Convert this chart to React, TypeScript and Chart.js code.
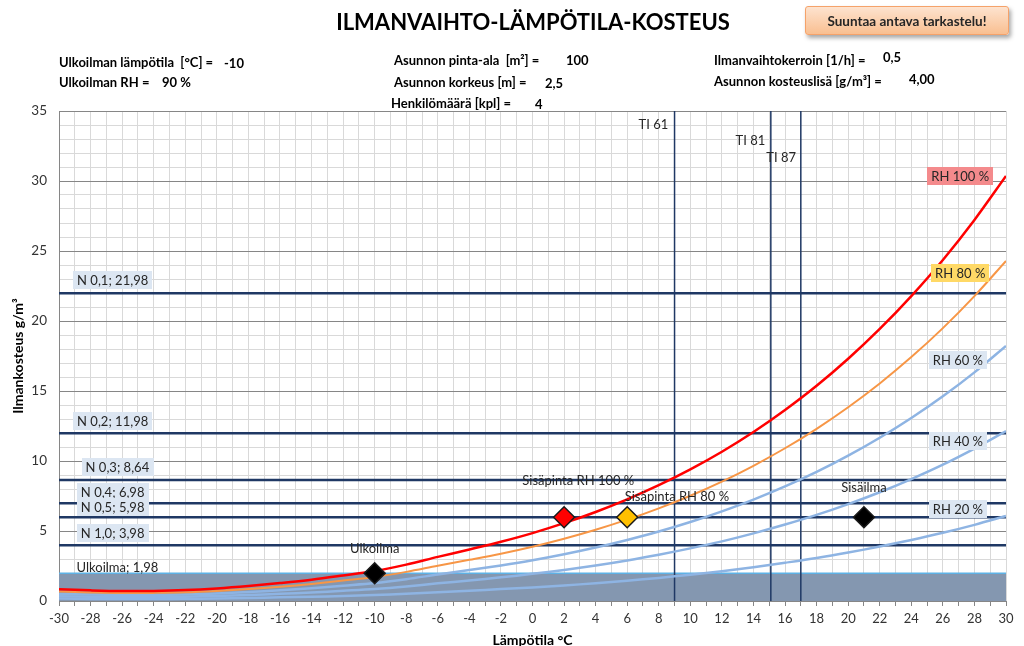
import React, { useEffect, useRef } from 'react';
import { Chart, registerables } from 'chart.js';

Chart.register(...registerables);

// ---- Data ----
const temps = [-30, -28, -26, -24, -22, -20, -18, -16, -14, -12, -10, -8, -6, -4, -2, 0, 2, 4, 6, 8, 10, 12, 14, 16, 18, 20, 22, 24, 26, 28, 30];
const rh100 = [0.84, 0.76, 0.71, 0.72, 0.78, 0.90, 1.07, 1.28, 1.52, 1.82, 2.14, 2.60, 3.15, 3.68, 4.23, 4.85, 5.56, 6.36, 7.26, 8.27, 9.40, 10.66, 12.07, 13.64, 15.37, 17.30, 19.43, 21.78, 24.36, 27.22, 30.36];
const rh80 = [0.67, 0.61, 0.57, 0.58, 0.62, 0.72, 0.86, 1.02, 1.22, 1.46, 1.71, 2.08, 2.52, 2.94, 3.38, 3.88, 4.45, 5.09, 5.81, 6.62, 7.52, 8.53, 9.66, 10.91, 12.30, 13.84, 15.54, 17.42, 19.49, 21.78, 24.29];
const rh60 = [0.50, 0.46, 0.43, 0.43, 0.47, 0.54, 0.64, 0.77, 0.91, 1.09, 1.28, 1.56, 1.89, 2.21, 2.54, 2.91, 3.34, 3.82, 4.36, 4.96, 5.64, 6.40, 7.24, 8.18, 9.22, 10.38, 11.66, 13.07, 14.62, 16.33, 18.22];
const rh40 = [0.34, 0.30, 0.28, 0.29, 0.31, 0.36, 0.43, 0.51, 0.61, 0.73, 0.86, 1.04, 1.26, 1.47, 1.69, 1.94, 2.22, 2.54, 2.90, 3.31, 3.76, 4.26, 4.83, 5.46, 6.15, 6.92, 7.77, 8.71, 9.74, 10.89, 12.14];
const rh20 = [0.17, 0.15, 0.14, 0.14, 0.16, 0.18, 0.21, 0.26, 0.30, 0.36, 0.43, 0.52, 0.63, 0.74, 0.85, 0.97, 1.11, 1.27, 1.45, 1.65, 1.88, 2.13, 2.41, 2.73, 3.07, 3.46, 3.89, 4.36, 4.87, 5.44, 6.07];

const nLevels = [21.98, 11.98, 8.64, 6.98, 5.98, 3.98];
const nLabels = ['N 0,1; 21,98', 'N 0,2; 11,98', 'N 0,3; 8,64', 'N 0,4; 6,98', 'N 0,5; 5,98', 'N 1,0; 3,98'];
const outdoorLevel = 1.98;
const outdoorLabel = 'Ulkoilma; 1,98';

const tiTemps = [9, 15.1, 17];
const tiLabels = ['TI 61', 'TI 81', 'TI 87'];

const markerTemps = [-10, 2, 6, 21];
const markerValues = [1.98, 5.98, 5.98, 5.98];
const markerLabels = ['Ulkoilma', 'Sisäpinta RH 100 %', 'Sisäpinta RH 80 %', 'Sisäilma'];

const rhLabels = ['RH 100 %', 'RH 80 %', 'RH 60 %', 'RH 40 %', 'RH 20 %'];

const xMin = -30, xMax = 30, yMin = 0, yMax = 35;

// ---- Label placement (data coordinates) ----
const nLabelPos = [[-26.6, 22.93], [-26.6, 12.86], [-26.3, 9.57], [-26.6, 7.79], [-26.6, 6.71], [-26.6, 4.86]];
const outdoorLabelPos = [-26.3, 2.43];
const tiLabelPos = [[8.6, 34.07], [14.75, 32.93], [16.7, 31.71]];
const markerLabelPos = [[-10, 3.79], [2.9, 8.64], [9.15, 7.5], [21, 8.14]];
const rhLabelPos = [[27.1, 30.36], [27.1, 23.43], [26.95, 17.21], [26.95, 11.43], [26.95, 6.57]];

const FONT = 'Lato, "Open Sans", sans-serif';

type Ann = { text: string; x: number; y: number; align: 'left' | 'center' | 'right'; bg?: string; color?: string };

const annotations: Ann[] = [
  ...nLabels.map((t, i) => ({ text: t, x: nLabelPos[i][0], y: nLabelPos[i][1], align: 'center' as const, bg: '#dce6f2' })),
  { text: outdoorLabel, x: outdoorLabelPos[0], y: outdoorLabelPos[1], align: 'center' },
  ...tiLabels.map((t, i) => ({ text: t, x: tiLabelPos[i][0], y: tiLabelPos[i][1], align: 'right' as const })),
  ...markerLabels.map((t, i) => ({ text: t, x: markerLabelPos[i][0], y: markerLabelPos[i][1], align: 'center' as const })),
  ...rhLabels.map((t, i) => ({
    text: t, x: rhLabelPos[i][0], y: rhLabelPos[i][1], align: 'center' as const,
    bg: i === 0 ? '#f48a8c' : i === 1 ? '#ffd966' : '#dce6f2',
  })),
];

const labelPlugin = {
  id: 'customLabels',
  afterDatasetsDraw(chart: any) {
    const { ctx } = chart;
    const xs = chart.scales.x, ys = chart.scales.y;
    ctx.save();
    ctx.font = `13px ${FONT}`;
    ctx.textBaseline = 'middle';
    ctx.textAlign = 'left';
    for (const a of annotations) {
      const px = xs.getPixelForValue(a.x);
      const py = ys.getPixelForValue(a.y);
      const w = ctx.measureText(a.text).width;
      const left = a.align === 'right' ? px - w : a.align === 'left' ? px : px - w / 2;
      if (a.bg) {
        ctx.fillStyle = a.bg;
        ctx.fillRect(Math.round(left - 4), Math.round(py - 9), Math.round(w + 8), 18);
      }
      ctx.fillStyle = a.color || '#262626';
      ctx.fillText(a.text, left, py + 1);
    }
    ctx.restore();
  },
};

const toPts = (vals: number[]) => temps.map((t, i) => ({ x: t, y: vals[i] }));

function ChartCanvas() {
  const ref = useRef<HTMLCanvasElement | null>(null);
  useEffect(() => {
    if (!ref.current) return;
    const curve = (label: string, vals: number[], color: string, width: number) => ({
      label, data: toPts(vals), borderColor: color, borderWidth: width, pointRadius: 0,
      tension: 0.35, showLine: true, fill: false,
    });
    const datasets: any[] = [
      {
        label: 'markers',
        data: markerTemps.map((t, i) => ({ x: t, y: markerValues[i] })),
        showLine: false,
        pointStyle: 'rectRot',
        pointRadius: 10.5,
        backgroundColor: ['#000000', '#ff0000', '#ffc000', '#000000'],
        borderColor: '#1a1a1a',
        borderWidth: 1.5,
      },
      curve('RH 100 %', rh100, '#ff0000', 2.5),
      curve('RH 80 %', rh80, '#f79646', 2),
      curve('RH 60 %', rh60, '#8eb4e3', 2.5),
      curve('RH 40 %', rh40, '#8eb4e3', 2.5),
      curve('RH 20 %', rh20, '#8eb4e3', 2.5),
      ...tiTemps.map((t, i) => ({
        label: tiLabels[i], data: [{ x: t, y: yMin }, { x: t, y: yMax }], showLine: true,
        borderColor: '#1f3864', borderWidth: 1.5, pointRadius: 0, fill: false,
      })),
      ...nLevels.map((v, i) => ({
        label: nLabels[i], data: [{ x: xMin, y: v }, { x: xMax, y: v }], showLine: true,
        borderColor: '#1f3864', borderWidth: 2.5, pointRadius: 0, fill: false,
      })),
      {
        label: outdoorLabel, data: [{ x: xMin, y: outdoorLevel }, { x: xMax, y: outdoorLevel }], showLine: true,
        borderColor: '#5db2e6', borderWidth: 1.5, pointRadius: 0, fill: 'origin', backgroundColor: '#8497b0',
      },
    ];
    const chart = new Chart(ref.current, {
      type: 'scatter',
      data: { datasets },
      options: {
        responsive: false,
        animation: false,
        layout: { padding: { left: 0, top: 111, right: 18, bottom: 0 } },
        plugins: { legend: { display: false }, tooltip: { enabled: false } },
        scales: {
          x: {
            type: 'linear', min: xMin, max: xMax,
            afterFit: (axis: any) => { axis.height = 45; },
            ticks: {
              stepSize: 1, autoSkip: false, maxRotation: 0, padding: 5,
              color: '#333333', font: { family: FONT, size: 13 },
              callback: (v: any) => (Number(v) % 2 === 0 ? String(v) : ''),
            },
            grid: { color: '#d9d9d9', tickColor: '#868686', tickLength: 5 },
            border: { color: '#868686' },
            title: { display: true, text: 'Lämpötila °C', color: '#000', font: { family: FONT, size: 14, weight: 'bold' }, padding: { top: 0, bottom: -3 } },
          },
          y: {
            type: 'linear', min: yMin, max: yMax,
            afterFit: (axis: any) => { axis.width = 59; },
            ticks: {
              stepSize: 1, autoSkip: false, padding: 12,
              color: '#333333', font: { family: FONT, size: 13.5 },
              callback: (v: any) => (Number(v) % 5 === 0 ? String(v) : ''),
            },
            grid: {
              drawTicks: false,
              color: (c: any) => (c.tick && c.tick.value % 5 === 0 ? '#868686' : '#d9d9d9'),
            },
            border: { color: '#868686' },
            title: { display: true, text: 'Ilmankosteus g/m³', color: '#000', font: { family: FONT, size: 14, weight: 'bold' }, padding: { top: 10, bottom: 0 } },
          },
        },
      } as any,
      plugins: [labelPlugin],
    });
    return () => chart.destroy();
  }, []);
  return <canvas ref={ref} width={1024} height={646} style={{ position: 'absolute', left: 0, top: 0 }} />;
}

const hdr: React.CSSProperties = { position: 'absolute', fontFamily: FONT, fontWeight: 700, fontSize: 13, lineHeight: '14px', color: '#000', whiteSpace: 'pre' };
const at = (left: number, cy: number): React.CSSProperties => ({ ...hdr, left, top: cy - 7 });

export default function App() {
  return (
    <div style={{ position: 'absolute', left: 0, top: 0, width: 1024, height: 646, background: '#fff', overflow: 'hidden' }}>
      <ChartCanvas />
      <div style={{ position: 'absolute', left: 533, top: 9, transform: 'translateX(-50%)', fontFamily: FONT, fontWeight: 700, fontSize: 22, lineHeight: '26px', color: '#000', whiteSpace: 'pre' }}>
        ILMANVAIHTO-LÄMPÖTILA-KOSTEUS
      </div>
      <div style={{ position: 'absolute', left: 805, top: 6, width: 204, height: 29, boxSizing: 'border-box', border: '1px solid #f5a26a', borderRadius: 3, background: 'linear-gradient(#fde3cf, #f9bf91)', boxShadow: '2px 3px 4px rgba(0,0,0,0.35)', display: 'flex', alignItems: 'center', justifyContent: 'center', fontFamily: FONT, fontWeight: 700, fontSize: 13.5, color: '#262626' }}>
        Suuntaa antava tarkastelu!
      </div>
      <div style={at(59, 62)}>Ulkoilman lämpötila  [°C] =</div>
      <div style={at(224, 63)}>-10</div>
      <div style={at(59, 82)}>Ulkoilman RH =</div>
      <div style={at(162, 82)}>90 %</div>
      <div style={at(394, 60)}>Asunnon pinta-ala  [m²] =</div>
      <div style={at(566, 60)}>100</div>
      <div style={at(394, 82)}>Asunnon korkeus [m] =</div>
      <div style={at(545, 83)}>2,5</div>
      <div style={at(391, 103)}>Henkilömäärä [kpl] =</div>
      <div style={at(535, 104)}>4</div>
      <div style={at(714, 60)}>Ilmanvaihtokerroin [1/h] =</div>
      <div style={at(883, 57)}>0,5</div>
      <div style={at(714, 81)}>Asunnon kosteuslisä [g/m³] =</div>
      <div style={at(909, 79)}>4,00</div>
    </div>
  );
}
